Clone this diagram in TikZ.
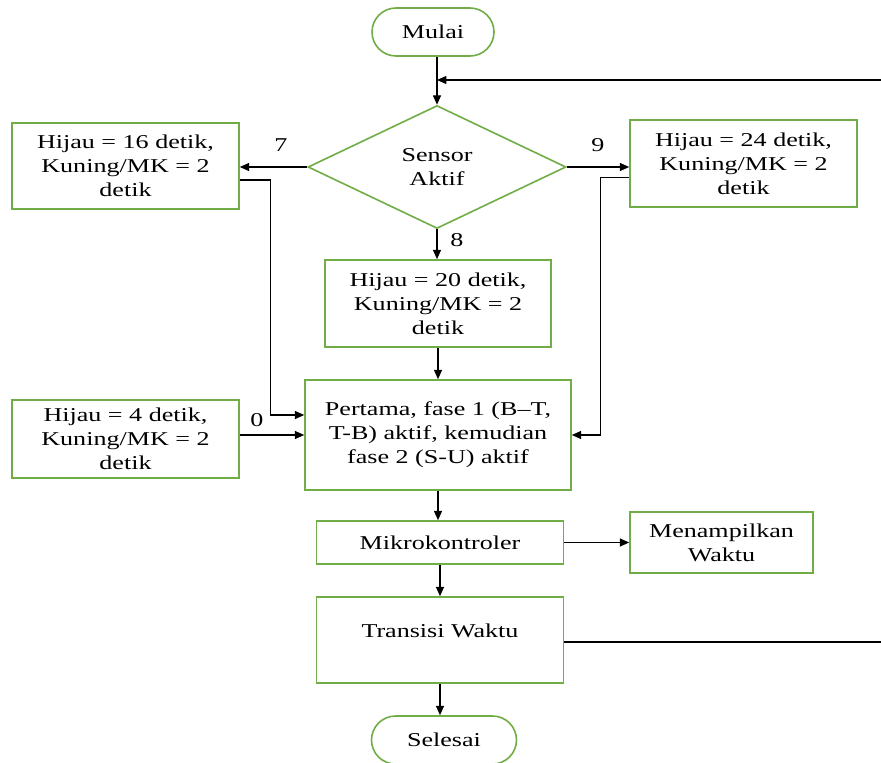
\documentclass[tikz,border=0pt]{standalone}
\usepackage{fontspec}
\setmainfont[FakeStretch=1.33]{Liberation Serif}
\usetikzlibrary{arrows.meta,shapes.geometric,shapes.misc,calc}
\definecolor{boxgreen}{HTML}{70AD47}
\newcommand{\pxu}{0.75pt}

\begin{document}
\begin{tikzpicture}[x=\pxu,y=-\pxu,->,>={Triangle[length=7pt,width=6pt]},
                    line width=0.9pt]
  \tikzstyle{every node}=[font=\fontsize{14.7}{18}\selectfont]
  \tikzstyle{proc}=[draw=boxgreen,line width=1.2pt,align=center,inner sep=0pt]
  \tikzstyle{term}=[proc,rounded rectangle]
  \tikzstyle{dec}=[proc,diamond,aspect=2.1]

  \clip (0,0) rectangle (881,763);

  \node[term,minimum width=122*\pxu,minimum height=48*\pxu] (mulai) at (433,32) {Mulai};
  \node[dec,minimum width=258*\pxu,minimum height=123*\pxu] (sensor) at (437,167) {Sensor\\Aktif};
  \node[proc,minimum width=227*\pxu,minimum height=86*\pxu] (h16) at (125.5,166)
    {Hijau = 16 detik,\\Kuning/MK = 2\\detik};
  \node[proc,minimum width=227*\pxu,minimum height=87*\pxu] (h24) at (743.5,163.5)
    {Hijau = 24 detik,\\Kuning/MK = 2\\detik};
  \node[proc,minimum width=226*\pxu,minimum height=87*\pxu] (h20) at (438,303.5)
    {Hijau = 20 detik,\\Kuning/MK = 2\\detik};
  \node[proc,minimum width=227*\pxu,minimum height=78*\pxu] (h4) at (125.5,439)
    {Hijau = 4 detik,\\Kuning/MK = 2\\detik};
  \node[proc,minimum width=266*\pxu,minimum height=110*\pxu] (fase) at (438,435)
    {Pertama, fase 1 (B--T,\\T-B) aktif, kemudian\\fase 2 (S-U) aktif};
  \node[proc,minimum width=247*\pxu,minimum height=43*\pxu] (mikro) at (440,542.5) {Mikrokontroler};
  \node[proc,minimum width=183*\pxu,minimum height=61*\pxu] (tampil) at (721.5,542.5) {Menampilkan\\Waktu};
  \node[proc,minimum width=247*\pxu,minimum height=86*\pxu,text depth=19*\pxu] (transisi) at (440,640) {Transisi Waktu};
  \node[term,minimum width=145*\pxu,minimum height=48*\pxu] (selesai) at (444,740) {Selesai};

  % labels on the branches
  \node (l7) at (281,145) {7};
  \node (l9) at (598,145) {9};
  \node (l8) at (457,240) {8};
  \node (l0) at (257,420) {0};

  \coordinate (balik) at (881,80);
  \coordinate (ujung) at (881,642);

  \draw (sensor.north |- mulai.south) -- (sensor.north);
  \draw (balik) -- (balik -| sensor.north);
  \draw (sensor.west) -- (sensor.west -| h16.east);
  \draw (sensor.east) -- (sensor.east -| h24.west);
  \draw (sensor.south) -- (sensor.south |- h20.north);
  \draw (h20.south) -- (fase.north);
  \draw ($(h16.east)+(0,14)$) -- ++(31,0) |- ($(fase.west)+(0,-20)$);
  \draw (h4.east |- fase.west) -- (fase.west);
  \draw ($(h24.west)+(0,14)$) -- ++(-29,0) |- (fase.east);
  \draw (fase.south) -- (fase.south |- mikro.north);
  \draw (mikro.east) -- (mikro.east -| tampil.west);
  \draw (mikro.south) -- (transisi.north);
  \draw[-] (transisi.east |- ujung) -- (ujung);
  \draw (transisi.south) -- (transisi.south |- selesai.north);
\end{tikzpicture}
\end{document}
